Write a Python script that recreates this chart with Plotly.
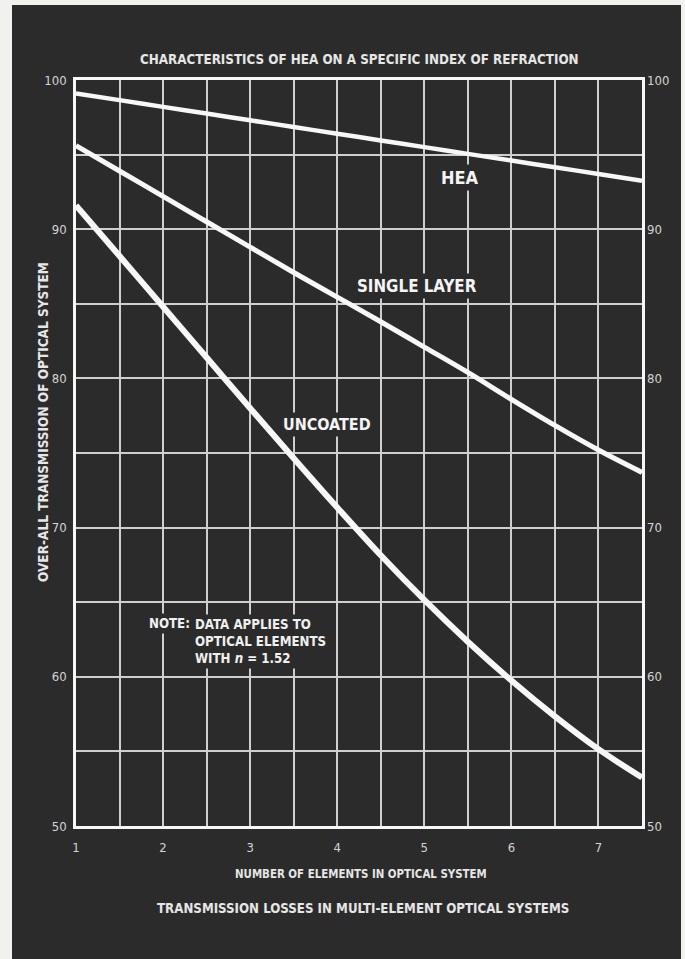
import plotly.graph_objects as go

# ---- data ----
elements = [1, 1.5, 2, 2.5, 3, 3.5, 4, 4.5, 5, 5.5, 6, 6.5, 7, 7.5]
hea = [99.1, 98.65, 98.2, 97.75, 97.3, 96.85, 96.4, 95.95, 95.5, 95.05, 94.6, 94.15, 93.7, 93.25]
single_layer = [95.6, 93.9, 92.2, 90.5, 88.8, 87.1, 85.45, 83.8, 82.1, 80.4, 78.6, 76.85, 75.2, 73.7]
uncoated = [91.6, 88.2, 84.8, 81.4, 78.0, 74.65, 71.35, 68.15, 65.15, 62.35, 59.75, 57.35, 55.15, 53.25]

x_tickvals = [1, 1.5, 2, 2.5, 3, 3.5, 4, 4.5, 5, 5.5, 6, 6.5, 7, 7.5]
x_ticktext = ["1", "", "2", "", "3", "", "4", "", "5", "", "6", "", "7", ""]
y_tickvals = [50, 55, 60, 65, 70, 75, 80, 85, 90, 95, 100]
y_ticktext = ["50", "", "60", "", "70", "", "80", "", "90", "", "100"]

series_names = ["HEA", "SINGLE LAYER", "UNCOATED"]

BG = "#2b2b2b"
PAPER = "#f1f1ee"
LINE = "#f7f7f5"
GRID = "#cfcfcf"
TXT = "#e6e6e6"
FONT = "DejaVu Sans Condensed, Liberation Sans Narrow, Arial Narrow, sans-serif"

W, H = 685, 959
L, R, T, B = 76, 43, 80, 133
PW, PH = W - L - R, H - T - B


def px_x(p):
    return (p - L) / PW


def px_y(p):
    return (H - B - p) / PH


fig = go.Figure()
for name, vals, w in zip(series_names, [hea, single_layer, uncoated], [4.5, 5, 6]):
    fig.add_trace(go.Scatter(x=elements, y=vals, mode="lines", name=name,
                             line=dict(color=LINE, width=w, shape="spline", smoothing=1.0),
                             hoverinfo="skip", showlegend=False))
# invisible trace for right-hand axis
fig.add_trace(go.Scatter(x=[elements[0]], y=[hea[0]], yaxis="y2", mode="markers",
                         marker=dict(opacity=0), showlegend=False, hoverinfo="skip"))

axis_font = dict(family=FONT, size=13, color="#d4d4d4")

fig.update_layout(
    width=W, height=H,
    margin=dict(l=L, r=R, t=T, b=B, autoexpand=False),
    paper_bgcolor=PAPER,
    plot_bgcolor=BG,
    font=dict(family=FONT, color=TXT),
    xaxis=dict(range=[1, 7.5], tickvals=x_tickvals, ticktext=x_ticktext,
               showgrid=True, gridcolor=GRID, gridwidth=1.5,
               showline=True, linecolor=LINE, linewidth=2.5, mirror=True,
               ticks="", tickfont=axis_font, zeroline=False, ticklabelstandoff=8,
               automargin=False),
    yaxis=dict(range=[50, 100], tickvals=y_tickvals, ticktext=y_ticktext,
               showgrid=True, gridcolor=GRID, gridwidth=1.5,
               showline=True, linecolor=LINE, linewidth=2.5, mirror=True,
               ticks="", tickfont=axis_font, zeroline=False, ticklabelstandoff=4,
               automargin=False),
    yaxis2=dict(range=[50, 100], tickvals=y_tickvals, ticktext=y_ticktext,
                overlaying="y", side="right", showgrid=False, zeroline=False,
                ticks="", tickfont=axis_font, ticklabelstandoff=4, automargin=False),
)

# dark panel behind everything
fig.add_shape(type="rect", xref="paper", yref="paper",
              x0=px_x(12), x1=px_x(681), y0=px_y(H + 5), y1=px_y(5),
              fillcolor=BG, line=dict(width=0), layer="below")

ann = []
ann.append(dict(text="<b>CHARACTERISTICS OF HEA ON A SPECIFIC INDEX OF REFRACTION</b>",
                xref="paper", yref="paper", x=px_x(359), y=px_y(50),
                font=dict(size=13.3, color=TXT, family=FONT), showarrow=False))
ann.append(dict(text="<b>NUMBER OF ELEMENTS IN OPTICAL SYSTEM</b>",
                xref="paper", yref="paper", x=px_x(361), y=px_y(883),
                font=dict(size=11.4, color=TXT, family=FONT), showarrow=False))
ann.append(dict(text="<b>TRANSMISSION LOSSES IN MULTI-ELEMENT OPTICAL SYSTEMS</b>",
                xref="paper", yref="paper", x=px_x(363), y=px_y(918),
                font=dict(size=13.2, color=TXT, family=FONT), showarrow=False))
ann.append(dict(text="<b>OVER-ALL TRANSMISSION OF OPTICAL SYSTEM</b>",
                xref="paper", yref="paper", x=px_x(33), y=px_y(422), textangle=-90,
                font=dict(size=13.5, color=TXT, family=FONT), showarrow=False))

label_pos = {"HEA": (5.41, 93.45), "SINGLE LAYER": (4.92, 86.2), "UNCOATED": (3.88, 76.9)}
label_size = {"HEA": 18, "SINGLE LAYER": 16.8, "UNCOATED": 16.0}
for name in series_names:
    lx, ly = label_pos[name]
    ann.append(dict(text="<b>" + name + "</b>", x=lx, y=ly, xref="x", yref="y",
                    font=dict(size=label_size[name], color="#f4f4f4", family=FONT),
                    showarrow=False, bgcolor=BG, borderpad=2))

ann.append(dict(text="<b>NOTE:</b>", x=1.80, y=63.6, xref="x", yref="y",
                xanchor="left", font=dict(size=13.2, color="#f0f0f0", family=FONT),
                showarrow=False, bgcolor=BG, borderpad=2))
ann.append(dict(text="<b>DATA APPLIES TO<br>OPTICAL ELEMENTS<br>WITH <i>n</i> = 1.52</b>",
                x=2.33, y=62.35, xref="x", yref="y", xanchor="left", align="left",
                font=dict(size=13.2, color="#f0f0f0", family=FONT),
                showarrow=False, bgcolor=BG, borderpad=2))

fig.update_layout(annotations=ann)
fig.write_html("out.html", config={"displayModeBar": False},
               post_script="document.body.style.margin='0px';document.body.style.overflow='hidden';")
